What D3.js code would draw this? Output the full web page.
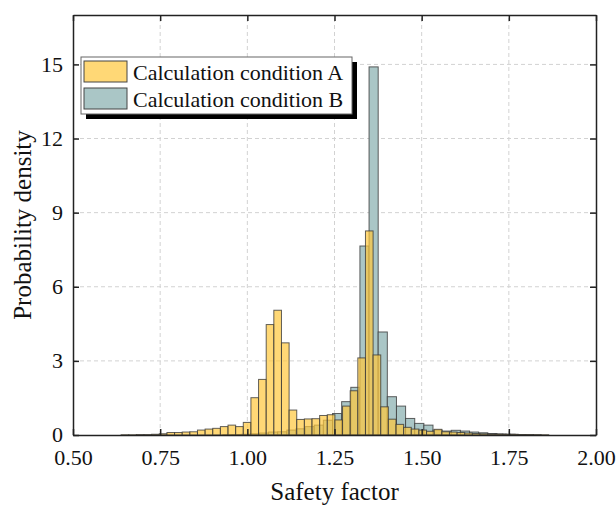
<!DOCTYPE html>
<html>
<head>
<meta charset="utf-8">
<script src="https://cdn.jsdelivr.net/npm/d3@7"></script>
<style>
  html, body { margin: 0; padding: 0; background: #fff; }
  svg { display: block; font-family: "Liberation Serif", "Times New Roman", serif; }
</style>
</head>
<body>
<svg id="chart" width="616" height="506"></svg>
<script>
// Histogram densities of the safety factor for two calculation conditions.
const seriesNames = ["Calculation condition A", "Calculation condition B"];

// Condition A: bins of equal width starting at binStartA
const binStartA = 0.638;
const binWidthA = 0.0219;
const densityA = [
  0.01, 0.01, 0.02, 0.02, 0.03, 0.05, 0.10, 0.10, 0.12, 0.13,
  0.20, 0.24, 0.27, 0.34, 0.40, 0.34, 0.51, 1.51, 2.25, 4.47,
  5.05, 3.73, 1.01, 0.63, 0.65, 0.66, 0.79, 0.82, 0.61, 1.17,
  1.79, 3.12, 8.26, 3.24, 1.14, 0.64, 0.43, 0.31, 0.24, 0.20,
  0.15, 0.23, 0.13, 0.12, 0.10, 0.08, 0.06, 0.05, 0.04, 0.04,
  0.03, 0.03, 0.02, 0.02, 0.02, 0.01
];

// Condition B: bins of equal width starting at binStartB
const binStartB = 0.9299;
const binWidthB = 0.0262;
const densityB = [
  0.01, 0.02, 0.03, 0.05, 0.08, 0.12, 0.13, 0.20, 0.25, 0.34,
  0.40, 0.60, 0.87, 1.35, 1.93, 7.65, 14.9, 4.17, 1.55, 1.17,
  0.67, 0.47, 0.40, 0.20, 0.16, 0.19, 0.16, 0.12, 0.09, 0.06,
  0.04, 0.03, 0.02, 0.01
];

const xTicks = [0.50, 0.75, 1.00, 1.25, 1.50, 1.75, 2.00];
const yTicks = [0, 3, 6, 9, 12, 15];
const xDomain = [0.5, 2.0];
const yDomain = [0, 17];
const xTitle = "Safety factor";
const yTitle = "Probability density";

const colorA = "#FFC83C";
const colorB = "#AAC6C6";

const svg = d3.select("#chart");
const margin = { left: 73, right: 20, top: 15, bottom: 71 };
const W = 616, H = 506;
const x = d3.scaleLinear().domain(xDomain).range([margin.left, W - margin.right]);
const y = d3.scaleLinear().domain(yDomain).range([H - margin.bottom, margin.top]);

const toBins = (start, width, vals) =>
  vals.map((v, i) => ({ x0: start + i * width, x1: start + (i + 1) * width, v }));
const binsA = toBins(binStartA, binWidthA, densityA);
const binsB = toBins(binStartB, binWidthB, densityB);

svg.append("defs").append("clipPath").attr("id", "plot-clip")
  .append("rect")
  .attr("x", x.range()[0]).attr("y", y.range()[1])
  .attr("width", x.range()[1] - x.range()[0])
  .attr("height", y.range()[0] - y.range()[1]);

// grid
const grid = svg.append("g").attr("stroke", "#d2d2d2").attr("stroke-dasharray", "4,3").attr("stroke-width", 1);
grid.selectAll("line.gx").data(xTicks.slice(1, -1)).join("line")
  .attr("x1", d => x(d)).attr("x2", d => x(d))
  .attr("y1", y.range()[0]).attr("y2", y.range()[1]);
grid.selectAll("line.gy").data(yTicks.slice(1)).join("line")
  .attr("y1", d => y(d)).attr("y2", d => y(d))
  .attr("x1", x.range()[0]).attr("x2", x.range()[1]);

// bars
const bars = svg.append("g").attr("clip-path", "url(#plot-clip)");
function drawBars(bins, fill, opacity) {
  bars.append("g").selectAll("rect").data(bins).join("rect")
    .attr("x", d => x(d.x0))
    .attr("width", d => x(d.x1) - x(d.x0))
    .attr("y", d => y(d.v))
    .attr("height", d => y(0) - y(d.v))
    .attr("fill", fill)
    .attr("fill-opacity", opacity)
    .attr("stroke", "#3a3a3a")
    .attr("stroke-opacity", 0.8)
    .attr("stroke-width", 1);
}
drawBars(binsB, colorB, 1);
drawBars(binsA, colorA, 0.7);

// axes (ticks pointing inward on all four sides)
const tickLen = 6;
const fmt = d3.format(".2f");
const axB = svg.append("g").attr("transform", `translate(0,${y.range()[0]})`)
  .call(d3.axisBottom(x).tickValues(xTicks).tickFormat(fmt).tickSizeInner(-tickLen).tickSizeOuter(0).tickPadding(14));
const axT = svg.append("g").attr("transform", `translate(0,${y.range()[1]})`)
  .call(d3.axisTop(x).tickValues(xTicks).tickFormat("").tickSizeInner(-tickLen).tickSizeOuter(0));
const axL = svg.append("g").attr("transform", `translate(${x.range()[0]},0)`)
  .call(d3.axisLeft(y).tickValues(yTicks).tickFormat(d3.format("d")).tickSizeInner(-tickLen).tickSizeOuter(0).tickPadding(10));
const axR = svg.append("g").attr("transform", `translate(${x.range()[1]},0)`)
  .call(d3.axisRight(y).tickValues(yTicks).tickFormat("").tickSizeInner(-tickLen).tickSizeOuter(0));

[axB, axT, axL, axR].forEach(a => {
  a.select(".domain").attr("stroke", "#222").attr("stroke-width", 1.5);
  a.selectAll(".tick line").attr("stroke", "#222").attr("stroke-width", 1.5);
  a.selectAll("text").attr("fill", "#111").style("font-size", "22px")
    .style("font-family", "'Liberation Serif', 'Times New Roman', serif");
});
axL.selectAll("text").attr("dy", "0.3em");

// axis titles
svg.append("text")
  .attr("x", (x.range()[0] + x.range()[1]) / 2).attr("y", 500)
  .attr("text-anchor", "middle").attr("fill", "#111")
  .style("font-size", "25px").text(xTitle);
svg.append("text")
  .attr("transform", `translate(31,${(y.range()[0] + y.range()[1]) / 2}) rotate(-90)`)
  .attr("text-anchor", "middle").attr("fill", "#111")
  .style("font-size", "25px").text(yTitle);

// legend with drop shadow
const lg = svg.append("g").attr("transform", "translate(81,57)");
const lgW = 271, lgH = 57;
lg.append("rect").attr("x", 5).attr("y", 5).attr("width", lgW).attr("height", lgH).attr("fill", "#000");
lg.append("rect").attr("width", lgW).attr("height", lgH).attr("fill", "#fff").attr("stroke", "#666").attr("stroke-width", 1);
const items = [{ name: seriesNames[0], color: colorA, op: 0.7 }, { name: seriesNames[1], color: colorB, op: 1 }];
items.forEach((it, i) => {
  const gy = 4 + i * 27;
  lg.append("rect").attr("x", 3).attr("y", gy).attr("width", 43).attr("height", 21)
    .attr("fill", it.color).attr("fill-opacity", it.op).attr("stroke", "#444").attr("stroke-width", 1);
  lg.append("text").attr("x", 52).attr("y", gy + 19).attr("fill", "#111")
    .style("font-size", "22px").text(it.name);
});
</script>
</body>
</html>
